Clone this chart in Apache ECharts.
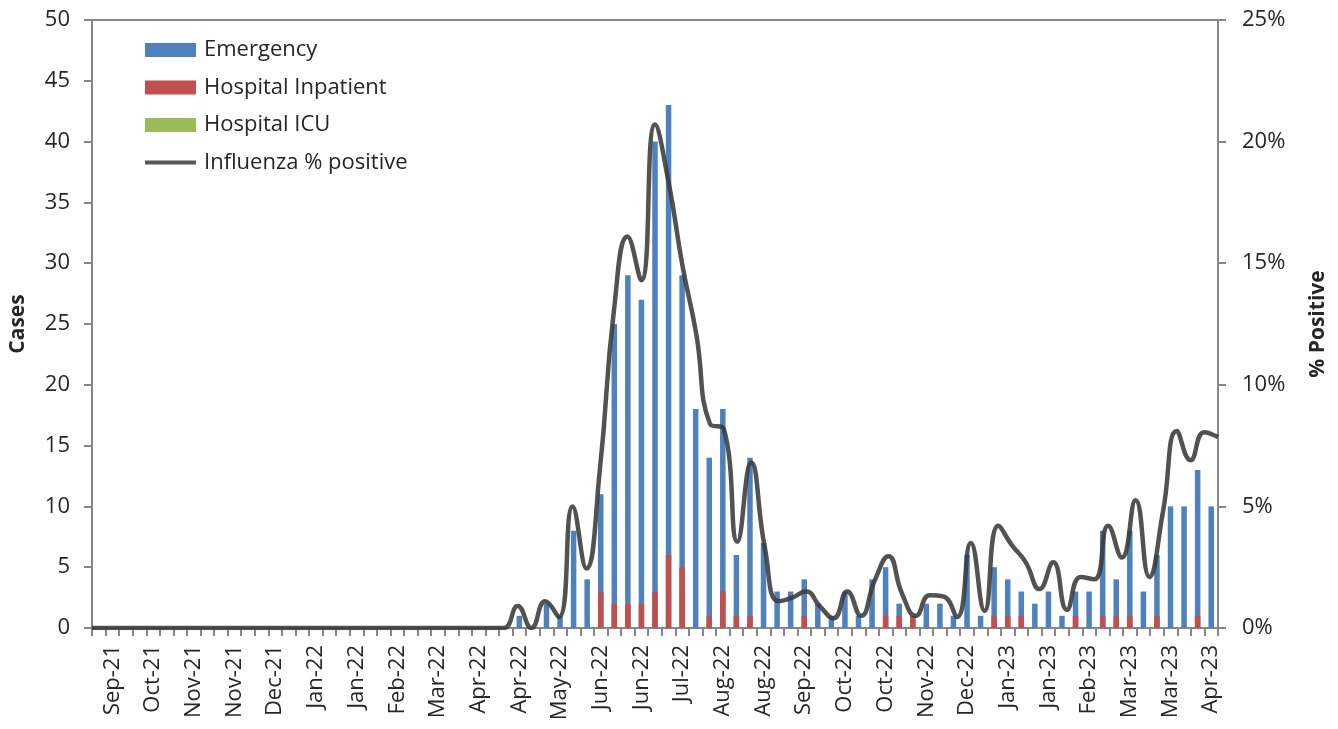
<!DOCTYPE html>
<html>
<head>
<meta charset="utf-8">
<title>Influenza cases</title>
<script src="https://cdn.jsdelivr.net/npm/echarts@6/dist/echarts.min.js"></script>
<style>
    html, body { margin: 0; padding: 0; background: #fff; }
    #chart { width: 1338px; height: 729px; }
</style>
</head>
<body>
<div id="chart"></div>
<script type="text/javascript">
    // week starting dates (Sunday)
    var weeks = [
        '2021-09-19','2021-09-26','2021-10-03','2021-10-10','2021-10-17','2021-10-24','2021-10-31',
        '2021-11-07','2021-11-14','2021-11-21','2021-11-28','2021-12-05','2021-12-12','2021-12-19',
        '2021-12-26','2022-01-02','2022-01-09','2022-01-16','2022-01-23','2022-01-30','2022-02-06',
        '2022-02-13','2022-02-20','2022-02-27','2022-03-06','2022-03-13','2022-03-20','2022-03-27',
        '2022-04-03','2022-04-10','2022-04-17','2022-04-24','2022-05-01','2022-05-08','2022-05-15',
        '2022-05-22','2022-05-29','2022-06-05','2022-06-12','2022-06-19','2022-06-26','2022-07-03',
        '2022-07-10','2022-07-17','2022-07-24','2022-07-31','2022-08-07','2022-08-14','2022-08-21',
        '2022-08-28','2022-09-04','2022-09-11','2022-09-18','2022-09-25','2022-10-02','2022-10-09',
        '2022-10-16','2022-10-23','2022-10-30','2022-11-06','2022-11-13','2022-11-20','2022-11-27',
        '2022-12-04','2022-12-11','2022-12-18','2022-12-25','2023-01-01','2023-01-08','2023-01-15',
        '2023-01-22','2023-01-29','2023-02-05','2023-02-12','2023-02-19','2023-02-26','2023-03-05',
        '2023-03-12','2023-03-19','2023-03-26','2023-04-02','2023-04-09','2023-04-16'
    ];
    var monthNames = ['Jan','Feb','Mar','Apr','May','Jun','Jul','Aug','Sep','Oct','Nov','Dec'];

    var emergency = [
        0,0,0,0,0,0,0,0,0,0, 0,0,0,0,0,0,0,0,0,0, 0,0,0,0,0,0,0,0,0,0,
        0,1,0,2,1,8,4,11,25,29, 27,40,43,29,18,14,18,6,14,7,
        3,3,4,2,1,3,1,4,5,2, 1,2,2,1,6,1,5,4,3,2,
        3,1,3,3,8,4,8,3,6,10, 10,13,10
    ];
    var inpatient = [
        0,0,0,0,0,0,0,0,0,0, 0,0,0,0,0,0,0,0,0,0, 0,0,0,0,0,0,0,0,0,0,
        0,0,0,0,0,0,0,3,2,2, 2,3,6,5,0,1,3,1,1,0,
        0,0,1,0,0,0,0,0,1,1, 1,0,0,0,0,0,1,1,1,0,
        0,0,1,0,1,1,1,0,1,0, 0,1,0
    ];
    var icu = [
        0,0,0,0,0,0,0,0,0,0, 0,0,0,0,0,0,0,0,0,0, 0,0,0,0,0,0,0,0,0,0,
        0,0,0,0,0,0,0,0,0,0, 0,0,0,0,0,0,0,0,0,0,
        0,0,0,0,0,0,0,0,0,0, 0,0,0,0,0,0,0,0,0,0,
        0,0,0,0,0,0,0,0,0,0, 0,0,0
    ];
    var fluPositive = [
        0,0,0,0,0,0,0,0,0,0, 0,0,0,0,0,0,0,0,0,0, 0,0,0,0,0,0,0,0,0,0,
        0,0.9,0,1.1,0.45,5.0,2.45,6.6,13.0,16.1, 14.3,20.7,18.3,14.9,12.1,8.4,8.2,3.55,6.8,3.3,
        1.1,1.25,1.5,0.9,0.4,1.5,0.5,1.95,2.95,1.4, 0.5,1.35,1.3,0.45,3.5,0.7,4.2,3.4,2.7,1.6,
        2.7,0.75,2.1,2.0,4.2,2.9,5.25,2.1,4.8,8.1, 6.9,8.05,7.85
    ];
    var casesTicks = { min: 0, max: 50, interval: 5 };
    var pctTicks = { min: 0, max: 25, interval: 5 };

    var font = 'Open Sans';
    var textColor = '#262626';
    var axisColor = '#868686';

    function monthLabel(d) {
        var p = d.split('-');
        return monthNames[parseInt(p[1], 10) - 1] + '-' + p[0].slice(2);
    }

    var myChart = echarts.init(document.getElementById('chart'));
    var option = {
        animation: false,
        backgroundColor: '#fff',
        grid: {
            left: 92, right: 120, top: 20, bottom: 101,
            show: true, borderColor: axisColor, borderWidth: 2
        },
        legend: {
            orient: 'vertical',
            left: 143,
            top: 39,
            itemWidth: 51,
            itemHeight: 14,
            itemGap: 15.5,
            padding: 0,
            textStyle: { fontFamily: font, fontSize: 22, color: textColor, lineHeight: 22, padding: [0, 0, 0, 3] },
            data: [
                { name: 'Emergency', icon: 'rect' },
                { name: 'Hospital Inpatient', icon: 'rect' },
                { name: 'Hospital ICU', icon: 'rect' },
                { name: 'Influenza % positive', itemStyle: { opacity: 0 }, lineStyle: { width: 4, color: '#404040' } }
            ]
        },
        xAxis: [
            {
                type: 'category',
                data: weeks,
                boundaryGap: true,
                axisLine: { show: true, lineStyle: { color: axisColor, width: 2 } },
                axisTick: { show: true, interval: 0, length: 8, lineStyle: { color: axisColor, width: 2 } },
                axisLabel: {
                    interval: function (i) { return i % 3 === 1; },
                    rotate: 90,
                    margin: 17,
                    fontFamily: font,
                    fontSize: 22,
                    color: textColor,
                    formatter: monthLabel
                },
                splitLine: { show: false }
            },
            {
                type: 'category',
                data: weeks,
                boundaryGap: false,
                show: false
            }
        ],
        yAxis: [
            {
                type: 'value',
                min: casesTicks.min, max: casesTicks.max, interval: casesTicks.interval,
                name: 'Cases',
                nameLocation: 'middle',
                nameRotate: 90,
                nameGap: 63,
                nameTextStyle: { fontFamily: font, fontSize: 21, fontWeight: 'bold', color: textColor },
                axisLine: { show: true, lineStyle: { color: axisColor, width: 2 } },
                axisTick: { show: true, length: 8, lineStyle: { color: axisColor, width: 2 } },
                axisLabel: { margin: 22, fontFamily: font, fontSize: 22, color: textColor },
                splitLine: { show: false }
            },
            {
                type: 'value',
                position: 'right',
                min: pctTicks.min, max: pctTicks.max, interval: pctTicks.interval,
                name: '% Positive',
                nameLocation: 'middle',
                nameRotate: 90,
                nameGap: 90,
                nameTextStyle: { fontFamily: font, fontSize: 21, fontWeight: 'bold', color: textColor },
                axisLine: { show: true, lineStyle: { color: axisColor, width: 2 } },
                axisTick: { show: true, length: 8, lineStyle: { color: axisColor, width: 2 } },
                axisLabel: { margin: 24, fontFamily: font, fontSize: 22, color: textColor, formatter: '{value}%' },
                splitLine: { show: false }
            }
        ],
        series: [
            {
                name: 'Emergency',
                type: 'bar',
                barWidth: 5.5,
                barGap: '-100%',
                itemStyle: { color: '#4F81BD' },
                data: emergency
            },
            {
                name: 'Hospital Inpatient',
                type: 'bar',
                barWidth: 5.5,
                barGap: '-100%',
                itemStyle: { color: '#C0504D' },
                data: inpatient
            },
            {
                name: 'Hospital ICU',
                type: 'bar',
                barWidth: 5.5,
                barGap: '-100%',
                itemStyle: { color: '#9BBB59' },
                data: icu
            },
            {
                name: 'Influenza % positive',
                type: 'line',
                xAxisIndex: 1,
                yAxisIndex: 1,
                smooth: 0.5,
                symbol: 'none',
                lineStyle: { color: '#3a3a3a', width: 4.5, opacity: 0.88 },
                itemStyle: { color: '#404040' },
                data: fluPositive
            }
        ]
    };

    myChart.setOption(option);
</script>
</body>
</html>
